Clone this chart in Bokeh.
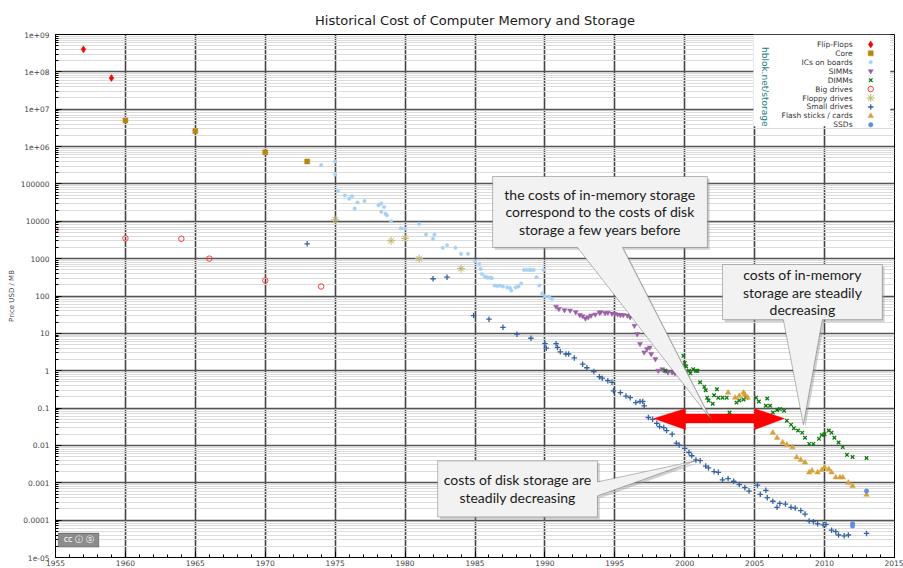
import math
from bokeh.plotting import figure
from bokeh.models import FixedTicker, Label, PolyAnnotation, BoxAnnotation, Range1d
from bokeh.embed import file_html
from bokeh.resources import INLINE

# ------------------------------------------------------------------ data
flipflop_year = [1957, 1959]
flipflop_price = [4e8, 6.8e7]

core_year = [1960, 1965, 1970, 1973]
core_price = [5e6, 2.6e6, 7e5, 4e5]

ics_year = [1974, 1975, 1975, 1975.2, 1975.7, 1976, 1976.2, 1976.4, 1976.6, 1977.1,
            1978.1, 1978.3, 1978.5, 1978.3, 1978.6, 1978.7, 1979, 1979.7, 1980, 1981,
            1981.5, 1982.1, 1982, 1982.7, 1983, 1983.6, 1984, 1984.5, 1985, 1985.3,
            1985.4, 1985.5, 1985.7, 1985.8, 1985.9, 1986.1, 1986.2, 1986.4, 1986.6, 1986.8,
            1987.0, 1987.3, 1987.5, 1987.6, 1987.9, 1988.1, 1988.3, 1988.5, 1988.7, 1988.9,
            1989.0, 1989.2, 1989.4, 1989.6, 1989.9, 1989.8, 1990, 1990.3, 1990.5]
ics_price = [3.2e5, 4e5, 1.8e5, 6.5e4, 4.9e4, 4e4, 4.7e4, 2.2e4, 3.2e4, 3.5e4,
             2.7e4, 3e4, 2.4e4, 1.8e4, 1.6e4, 1.45e4, 1e4, 6500, 6300, 8500,
             4400, 4400, 3400, 1950, 2300, 1950, 1350, 1350, 850, 720,
             530, 390, 330, 320, 310, 310, 300, 190, 185, 190,
             180, 170, 165, 140, 170, 180, 215, 500, 500, 500,
             500, 500, 320, 190, 500, 117, 100, 95, 83]

simm_year = [1990.8, 1991, 1991.4, 1991.8, 1992.2, 1992.5, 1992.7, 1992.9, 1993.1, 1993.3,
             1993.6, 1993.9, 1994.0, 1994.3, 1994.5, 1994.8, 1995.0, 1995.2, 1995.4, 1995.6,
             1995.9, 1996.1, 1996.4, 1996.6, 1996.8, 1997.1, 1997.3, 1997.5, 1997.6, 1997.9,
             1998.1, 1998.4, 1998.6, 1998.8, 1999.1, 1999.3]
simm_price = [52, 45, 42, 41, 37, 31, 29, 25, 27, 30,
              32, 36, 37, 35, 36, 34, 33, 32, 31, 31,
              30, 27, 16, 9.6, 5.2, 3.1, 3.8, 4.2, 2.8, 2.05,
              1.0, 1.1, 1.0, 0.9, 0.9, 0.85]

dimm_year = [1998.6, 1999.9, 2000, 2000.1, 2000.3, 2000.4, 2000.6, 2000.8, 2000.9, 2001.1,
             2001.4, 2001.5, 2001.6, 2001.7, 2002.0, 2002.1, 2002.3, 2002.4, 2002.7, 2003.0,
             2003.2, 2003.7, 2003.9, 2004.2, 2004.4, 2005.1, 2005.3, 2005.8, 2005.9, 2006.1,
             2006.3, 2006.6, 2006.8, 2007.1, 2007.3, 2007.6, 2007.8, 2008.1, 2008.4, 2008.6,
             2008.9, 2009.2, 2009.6, 2009.8, 2010.0, 2010.3, 2010.5, 2010.7, 2011.0, 2011.3,
             2011.6, 2012.0, 2013.0]
dimm_price = [1.0, 2.5, 1.6, 1.3, 1.0, 0.85, 1.1, 1.0, 1.0, 0.49,
              0.37, 0.30, 0.19, 0.16, 0.13, 0.22, 0.32, 0.19, 0.19, 0.19,
              0.076, 0.14, 0.16, 0.17, 0.19, 0.19, 0.15, 0.115, 0.18, 0.115,
              0.076, 0.089, 0.094, 0.085, 0.046, 0.036, 0.029, 0.025, 0.022, 0.016,
              0.011, 0.011, 0.015, 0.019, 0.02, 0.025, 0.022, 0.016, 0.012, 0.009,
              0.0056, 0.0049, 0.0046]

big_year = [1955, 1960, 1964, 1966, 1970, 1974]
big_price = [6000, 3500, 3400, 1000, 260, 180]

floppy_year = [1975, 1979, 1980, 1981, 1984]
floppy_price = [11000, 3000, 3500, 1000, 540]

small_year = [1973, 1982, 1983, 1984.9, 1986, 1987, 1988, 1989, 1990, 1990.1,
              1990.8, 1990.9, 1991.1, 1991.5, 1991.7, 1992.1, 1992.7, 1993, 1993.5, 1993.9,
              1994.1, 1994.5, 1994.8, 1994.9, 1995.4, 1995.8, 1996.1, 1996.5, 1996.8, 1997.0,
              1997.1, 1997.4, 1997.7, 1998.0, 1998.2, 1998.5, 1998.7, 1999.1, 1999.4, 1999.6,
              2000.0, 2000.3, 2000.5, 2000.8, 2001.1, 2001.5, 2001.7, 2002.1, 2002.4, 2002.7,
              2003.1, 2003.5, 2003.9, 2004.3, 2004.6, 2005.2, 2005.4, 2005.8, 2005.9, 2006.3,
              2006.6, 2006.8, 2007.2, 2007.6, 2007.9, 2008.3, 2008.6, 2008.9, 2009.2, 2009.5,
              2009.9, 2010.1, 2010.5, 2010.8, 2011.0, 2011.4, 2011.7, 2013.0]
small_price = [2500, 290, 320, 30, 24, 14.5, 9.5, 7.4, 5.3, 4.0,
               5.3, 4.2, 3.2, 2.8, 2.8, 2.2, 1.5, 1.2, 0.95, 0.69,
               0.63, 0.54, 0.49, 0.29, 0.26, 0.21, 0.19, 0.14, 0.15, 0.15,
               0.115, 0.056, 0.05, 0.039, 0.032, 0.030, 0.025, 0.02, 0.0115, 0.0102,
               0.0083, 0.0065, 0.0053, 0.0041, 0.0039, 0.0028, 0.0025, 0.002, 0.0019, 0.0012,
               0.0013, 0.0011, 0.0009, 0.00074, 0.0006, 0.00087, 0.00049, 0.00063, 0.0004, 0.00032,
               0.00022, 0.00028, 0.00027, 0.00022, 0.00021, 0.00018, 0.000145, 0.000095, 0.000091, 0.00008,
               0.000075, 0.000077, 0.000054, 0.000049, 0.00004, 0.000038, 0.00004, 0.000044]

flash_year = [2003.1, 2003.6, 2003.9, 2004.2, 2004.3, 2004.5, 2006.3, 2006.6, 2007.0, 2007.3,
              2007.7, 2008.0, 2008.3, 2008.6, 2008.9, 2009.1, 2009.5, 2009.8, 2010.0, 2010.3,
              2010.5, 2010.8, 2011.1, 2011.3, 2011.7, 2012.0, 2013.0]
flash_price = [0.26, 0.19, 0.21, 0.26, 0.23, 0.19, 0.022, 0.016, 0.012, 0.0104,
               0.009, 0.0048, 0.0041, 0.0035, 0.0019, 0.0021, 0.0019, 0.0022, 0.0026, 0.0023,
               0.0019, 0.0014, 0.0014, 0.0014, 0.001, 0.00083, 0.00048]

ssd_year = [2012.0, 2012.0, 2013.0]
ssd_price = [8e-5, 7e-5, 6e-4]

x_major = list(range(1955, 2016, 5))
x_minor = list(range(1955, 2016))
y_exponents = list(range(-5, 10))
y_tick_labels = ["1e-05", "0.0001", "0.001", "0.01", "0.1", "1", "10", "100", "1000",
                 "10000", "100000", "1e+06", "1e+07", "1e+08", "1e+09"]

series = [
    ("Flip-Flops", flipflop_year, flipflop_price,
     dict(marker="diamond", size=7, fill_color="#ff0000", line_color="#ff0000", line_width=0.5)),
    ("Core", core_year, core_price,
     dict(marker="square", size=5, fill_color="#b8860b", line_color="#b8860b", line_width=0.5)),
    ("ICs on boards", ics_year, ics_price,
     dict(marker="circle", size=3.5, fill_color="#a6d0f7", line_color="#a6d0f7", line_width=0.5)),
    ("SIMMs", simm_year, simm_price,
     dict(marker="inverted_triangle", size=5, fill_color="#9b5fa8", line_color="#9b5fa8", line_width=0.5)),
    ("DIMMs", dimm_year, dimm_price,
     dict(marker="x", size=5, line_color="#0b7a0b", line_width=1.3)),
    ("Big drives", big_year, big_price,
     dict(marker="circle", size=5.5, fill_color=None, line_color="#ff3b3b", line_width=1)),
    ("Floppy drives", floppy_year, floppy_price,
     dict(marker="asterisk", size=8, line_color="#bdb46a", line_width=1)),
    ("Small drives", small_year, small_price,
     dict(marker="cross", size=5.5, line_color="#3463a3", line_width=1.3)),
    ("Flash sticks / cards", flash_year, flash_price,
     dict(marker="triangle", size=5.5, fill_color="#d9a038", line_color="#d9a038", line_width=0.5)),
    ("SSDs", ssd_year, ssd_price,
     dict(marker="circle", size=4.5, fill_color="#5b8fe0", line_color="#5b8fe0", line_width=0.5)),
]

# ------------------------------------------------------------------ figure
p = figure(width=903, height=568, x_range=Range1d(1955, 2015), y_range=Range1d(1e-5, 1e9),
           y_axis_type="log", output_backend="svg", toolbar_location=None,
           min_border_left=55, min_border_right=9, min_border_top=34, min_border_bottom=11,
           title="Historical Cost of Computer Memory and Storage")
p.title.align = "center"
p.title.text_font = "DejaVu Sans"
p.title.text_font_size = "13px"
p.title.text_font_style = "normal"
p.title.text_color = "#1a1a1a"
p.title.standoff = 13
p.outline_line_color = "black"
p.background_fill_color = "white"
p.border_fill_color = "white"

x_ticker = FixedTicker(ticks=x_major, minor_ticks=x_minor)
y_major = [10.0 ** e for e in y_exponents]
y_minor = [m * 10.0 ** e for e in y_exponents[:-1] for m in range(2, 10)]
y_ticker = FixedTicker(ticks=y_major, minor_ticks=y_minor)


def style_axis(ax):
    ax.axis_line_color = "black"
    ax.major_tick_line_color = "black"
    ax.minor_tick_line_color = "black"
    ax.major_tick_in = 6
    ax.major_tick_out = 0
    ax.minor_tick_in = 3
    ax.minor_tick_out = 0
    ax.major_label_text_font = "DejaVu Sans"
    ax.major_label_text_font_size = "7.5px"
    ax.major_label_text_color = "#444444"


xa = p.xaxis[0]
xa.ticker = x_ticker
style_axis(xa)
xa.major_label_standoff = 2

ya = p.yaxis[0]
ya.ticker = y_ticker
style_axis(ya)
ya.major_label_standoff = 6
ya.major_label_overrides = {v: s for v, s in zip(y_major, y_tick_labels)}
ya.axis_label = "Price USD / MB"
ya.axis_label_text_font = "DejaVu Sans"
ya.axis_label_text_font_size = "7px"
ya.axis_label_text_font_style = "normal"
ya.axis_label_text_color = "#444444"
ya.axis_label_standoff = 2

p.xgrid.ticker = x_ticker
p.xgrid.grid_line_color = "#444444"
p.xgrid.grid_line_width = 1.6
p.ygrid.ticker = y_ticker
p.ygrid.grid_line_color = "#555555"
p.ygrid.grid_line_width = 1.3
p.ygrid.minor_grid_line_color = "#dcdcdc"
p.ygrid.minor_grid_line_width = 1

# white key area
p.add_layout(BoxAnnotation(left=2004.91, right=2014.7, top=1e9, bottom=3.5e6,
                           fill_color="white", fill_alpha=1, line_color=None, level="underlay"))

# ------------------------------------------------------------------ data marks
for name, xs, ys, style in series:
    p.scatter(x=xs, y=ys, **style)

# ------------------------------------------------------------------ key
for i, (name, xs, ys, style) in enumerate(series):
    ky = 10 ** (8.735 - 0.2393 * i)
    p.add_layout(Label(x=2012.0, y=ky, text=name, text_align="right", text_baseline="middle",
                       text_font="DejaVu Sans", text_font_size="7.5px", text_color="#333333"))
    p.scatter(x=[2013.3], y=[ky], **style)

p.add_layout(Label(x=2005.77, y=4e7, text="hblok.net/storage", angle=-math.pi / 2,
                   text_align="center", text_baseline="middle", text_font="DejaVu Sans",
                   text_font_size="9px", text_color="#1a7f7f"))

# ------------------------------------------------------------------ red double arrow
p.add_layout(PolyAnnotation(
    xs=[1997.77, 2000.06, 2000.06, 2004.98, 2004.98, 2007.13, 2004.98, 2004.98, 2000.06, 2000.06],
    ys=[0.0526, 0.0975, 0.069, 0.069, 0.0975, 0.0526, 0.0262, 0.0396, 0.0396, 0.0262],
    fill_color="#ff0000", fill_alpha=1, line_color="#ff0000", line_width=1))

# ------------------------------------------------------------------ callouts
callouts = [
    dict(text="the costs of in-memory storage\ncorrespond to the costs of disk\nstorage a few years before",
         xs=[1986.26, 2001.62, 2001.62, 1995.55, 2001.84, 1992.33, 1986.26],
         ys=[1.58e5, 1.58e5, 1990, 1990, 0.0514, 1990, 1990],
         box=(1986.26, 2001.62, 1.58e5, 1990)),
    dict(text="costs of in-memory\nstorage are steadily\ndecreasing",
         xs=[2002.70, 2014.13, 2014.13, 2009.84, 2008.48, 2007.05, 2002.70],
         ys=[695, 695, 23.3, 23.3, 0.0356, 23.3, 23.3],
         box=(2002.70, 2014.13, 695, 23.3)),
    dict(text="costs of disk storage are\nsteadily decreasing",
         xs=[1982.33, 1993.76, 1993.76, 2000.77, 1993.76, 1993.76, 1982.33],
         ys=[0.00386, 0.00386, 0.001057, 0.00386, 0.000446, 0.000122, 0.000122],
         box=(1982.33, 1993.76, 0.00386, 0.000122)),
]
for c in callouts:
    p.add_layout(PolyAnnotation(xs=[x + 0.16 for x in c["xs"]], ys=[y * 0.87 for y in c["ys"]],
                                fill_color="#9a9a9a", fill_alpha=0.45, line_color=None))
    p.add_layout(PolyAnnotation(xs=c["xs"], ys=c["ys"], fill_color="#f2f2f2", fill_alpha=1,
                                line_color="#222222", line_width=1))
    x0, x1, y0, y1 = c["box"]
    p.add_layout(Label(x=(x0 + x1) / 2, y=math.sqrt(y0 * y1), text=c["text"],
                       text_align="center", text_baseline="middle", text_font="Lato",
                       text_font_size="14px", text_color="#1a1a1a", text_line_height=1.05))

# ------------------------------------------------------------------ licence badge
p.add_layout(BoxAnnotation(left=1955.2, right=1958.1, top=4.5e-5, bottom=1.9e-5,
                           fill_color="#8c8c8c", fill_alpha=1, line_color="#111111", line_width=1))
p.add_layout(Label(x=1956.65, y=2.95e-5, text="cc ⓘ ⓢ", text_align="center",
                   text_baseline="middle", text_font="DejaVu Sans", text_font_size="8px",
                   text_color="white"))

open("out.html", "w").write(file_html(p, INLINE))
